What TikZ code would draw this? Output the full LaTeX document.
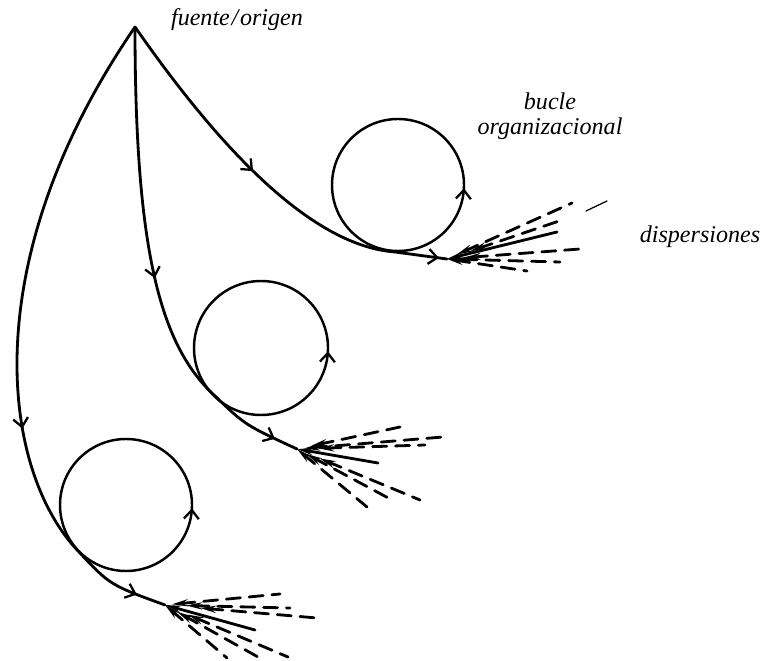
\documentclass[tikz,border=0pt]{standalone}
\usepackage{fontspec}
\setmainfont{Liberation Serif}
\usetikzlibrary{arrows.meta,decorations.markings}

\begin{document}
\begin{tikzpicture}[x=0.02cm, y=-0.02cm, line cap=round,
    flow/.style={line width=1.6pt},
    loopc/.style={line width=1.4pt, postaction={decorate, decoration={markings,
        mark=at position 0.008 with {\arrowreversed{Straight Barb[length=5pt,width=8.5pt,line width=1.3pt]}}}}},
    mid/.style 2 args={postaction={decorate, decoration={markings,
        mark=at position #1 with {\arrow{Straight Barb[length=5pt,width=8.5pt,line width=1.3pt]}},
        mark=at position #2 with {\arrow{Straight Barb[length=5pt,width=8.5pt,line width=1.3pt]}}}}},
    ray/.style={line width=1.6pt, dash pattern=on 8pt off 5pt, {Stealth[length=9pt,width=4pt]}-},
    lbl/.style={font=\fontsize{13.7}{14}\selectfont\itshape}]
    \useasboundingbox (0,0) rectangle (763,661);

    \coordinate (src) at (135,27);
    \coordinate (c1) at (398,185);
    \coordinate (c2) at (261,348);
    \coordinate (c3) at (126,505);
    \coordinate (t1) at (395,252);
    \coordinate (t2) at (214,395);
    \coordinate (t3) at (79,552);
    \coordinate (f1) at (447,259);
    \coordinate (f2) at (297,449);
    \coordinate (f3) at (165,605);

    \draw[loopc] (c1) circle[radius=66];
    \draw[loopc] (c2) circle[radius=67];
    \draw[loopc] (c3) circle[radius=66];

    \draw[flow, mid={0.46}{0.98}] (src) .. controls (200,120) and (300,245) .. (t1) -- (f1);
    \draw[flow, mid={0.52}{0.95}] (src) .. controls (135,250) and (160,345) .. (t2) .. controls (245,425) .. (f2);
    \draw[flow, mid={0.64}{0.955}] (src) .. controls (-25,260) and (0,470) .. (t3) .. controls (110,585) .. (f3);

    \foreach \dx/\dy/\s in {125/-56/6, 115/-39/14, 133/-10/10, 113/3/4, 80/12/0}
        \draw[ray, shorten <=\s pt] (f1) -- ++(\dx,\dy);
    \draw[flow, {Stealth[length=9pt,width=4pt]}-] (f1) -- ++(110,-27);
    \draw[line width=0.7pt] (586,211) -- (607,201);

    \foreach \dx/\dy/\s in {103/-22/8, 146/-12/4, 128/-4/12, 70/58/0, 95/51/6, 123/51/14}
        \draw[ray, shorten <=\s pt] (f2) -- ++(\dx,\dy);
    \draw[flow, {Stealth[length=9pt,width=4pt]}-] (f2) -- ++(81,14);

    \foreach \dx/\dy/\s in {115/-11/4, 125/3/12, 152/13/20, 62/53/0, 93/52/8, 123/52/14}
        \draw[ray, shorten <=\s pt] (f3) -- ++(\dx,\dy);
    \draw[flow, {Stealth[length=9pt,width=4pt]}-] (f3) -- ++(90,25);

    \node[lbl] (src-lbl) at (237,20) {fuente\kern1pt/\kern1pt origen};
    \node[lbl, align=center] (loop-lbl) at (550,116) {bucle\\organizacional};
    \node[lbl] (disp-lbl) at (700,237) {dispersiones};
\end{tikzpicture}
\end{document}
